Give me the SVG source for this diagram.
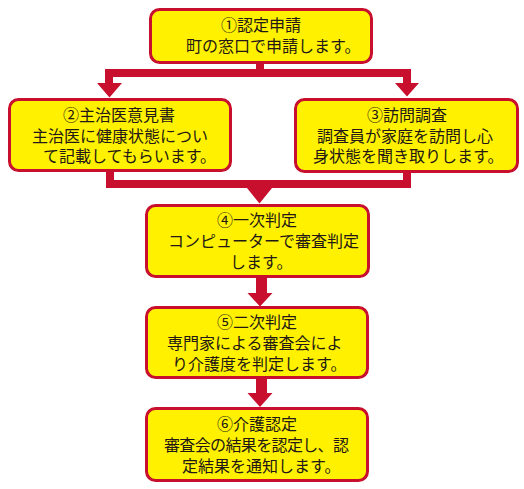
<svg xmlns="http://www.w3.org/2000/svg" width="524" height="489" viewBox="0 0 524 489">
<style>
.box{fill:#fff100;stroke:#c80f2e;stroke-width:3}
.t{font-family:"Noto Sans CJK JP","Noto Sans CJK SC",sans-serif;font-size:16px;fill:#231815}
.c{fill:#c80f2e}
</style>
<rect width="524" height="489" fill="#ffffff"/>
<g id="connectors" class="c">
<path d="M256 63 H264 V69 H411 V83 H419 L407 96.5 L395 83 H403 V77 H113 V83 H122 L109.5 97.5 L97 83 H105 V69 H256 Z"/>
<path d="M106 171 H114 V180 H403 V172 H411 V188 H272 L259.5 203.5 L247 188 H106 Z"/>
<path d="M256 277 H267 V293 H272.5 L260 306.5 L247.5 293 H256 Z"/>
<path d="M256 378 H267 V393 H272.5 L260 407 L247.5 393 H256 Z"/>
</g>
<g id="node1">
<rect class="box" x="150.5" y="9.5" width="221" height="53" rx="9"/>
<text class="t" x="221" y="31">①認定申請</text>
<text class="t" x="186" y="52">町の窓口で申請します。</text>
</g>
<g id="node2">
<rect class="box" x="9.5" y="99.5" width="221" height="71" rx="9"/>
<text class="t" x="63" y="121">②主治医意見書</text>
<text class="t" x="32" y="142">主治医に健康状態につい</text>
<text class="t" x="43" y="162">て記載してもらいます。</text>
</g>
<g id="node3">
<rect class="box" x="295.5" y="99.5" width="222" height="72" rx="9"/>
<text class="t" x="367" y="121">③訪問調査</text>
<text class="t" x="317" y="142">調査員が家庭を訪問し心</text>
<text class="t" x="313" y="162">身状態を聞き取りします。</text>
</g>
<g id="node4">
<rect class="box" x="146.5" y="205.5" width="222" height="71" rx="9"/>
<text class="t" x="217" y="226">④一次判定</text>
<text class="t" x="168" y="247">コンピューターで審査判定</text>
<text class="t" x="230" y="268">します。</text>
</g>
<g id="node5">
<rect class="box" x="146.5" y="307.5" width="221" height="70" rx="9"/>
<text class="t" x="217" y="328">⑤二次判定</text>
<text class="t" x="167" y="349">専門家による審査会によ</text>
<text class="t" x="172" y="370">り介護度を判定します。</text>
</g>
<g id="node6">
<rect class="box" x="146.5" y="408.5" width="221" height="72" rx="9"/>
<text class="t" x="217" y="430">⑥介護認定</text>
<text class="t" x="164" y="451" textLength="185" lengthAdjust="spacing">審査会の結果を認定し、認</text>
<text class="t" x="182" y="472">定結果を通知します。</text>
</g>
</svg>
